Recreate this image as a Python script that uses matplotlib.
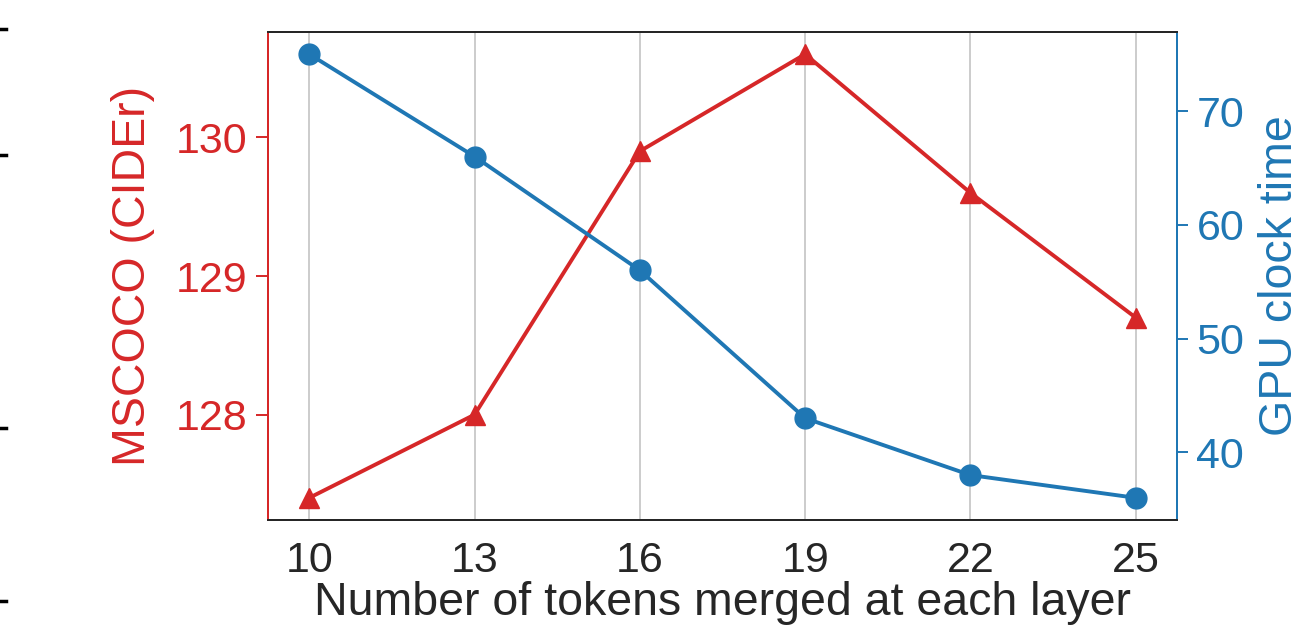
import matplotlib
matplotlib.use("Agg")
import matplotlib.pyplot as plt
from matplotlib.lines import Line2D

plt.rcParams['font.family'] = ['Liberation Sans', 'DejaVu Sans']

tokens_merged = [10, 13, 16, 19, 22, 25]
cider = [127.4, 128.0, 129.9, 130.6, 129.6, 128.7]
gpu_time = [75, 66, 56, 43, 38, 36]

red = '#d62728'
blue = '#1f77b4'
dark = '#262626'

fig = plt.figure(figsize=(13.01, 6.29), dpi=100)
ax = fig.add_axes([268 / 1301, 1 - 520 / 629, (1177 - 268) / 1301, (520 - 32) / 629])
ax2 = ax.twinx()

ax.plot(tokens_merged, cider, color=red, marker='^', markersize=14, linewidth=2.8)
ax2.plot(tokens_merged, gpu_time, color=blue, marker='o', markersize=15, linewidth=2.8)

ax.set_xticks(tokens_merged)
ax.set_yticks([128, 129, 130])
ax2.set_yticks([40, 50, 60, 70])

ax.grid(axis='x', color='#cccccc', linewidth=1.4)
ax.set_axisbelow(True)

tick_fs = 31
label_fs = 33.5
ax.tick_params(axis='x', length=0, pad=15, labelsize=tick_fs, labelcolor=dark)
ax.tick_params(axis='y', colors=red, labelsize=tick_fs, length=8.5, width=1.4, pad=6)
ax2.tick_params(axis='y', colors=blue, labelsize=tick_fs, length=8, width=1.4, pad=6)

ax.set_xlabel('Number of tokens merged at each layer', fontsize=label_fs, color=dark, labelpad=0)
ax.set_ylabel('MSCOCO (CIDEr)', fontsize=label_fs, color=red, labelpad=15)
ax2.set_ylabel('GPU clock time', fontsize=label_fs, color=blue, labelpad=10)

for a in (ax, ax2):
    a.spines['top'].set_color(dark)
    a.spines['bottom'].set_color(dark)
    a.spines['left'].set_color(red)
    a.spines['right'].set_color(blue)
    for s in a.spines.values():
        s.set_linewidth(1.4)

# short dashes along the left edge
for yp in [29, 155, 428, 601]:
    fig.add_artist(Line2D([0, 6 / 1301], [1 - yp / 629] * 2, color='black', linewidth=2.5,
                          transform=fig.transFigure))

fig.savefig('out.png', dpi=100, facecolor='white')
